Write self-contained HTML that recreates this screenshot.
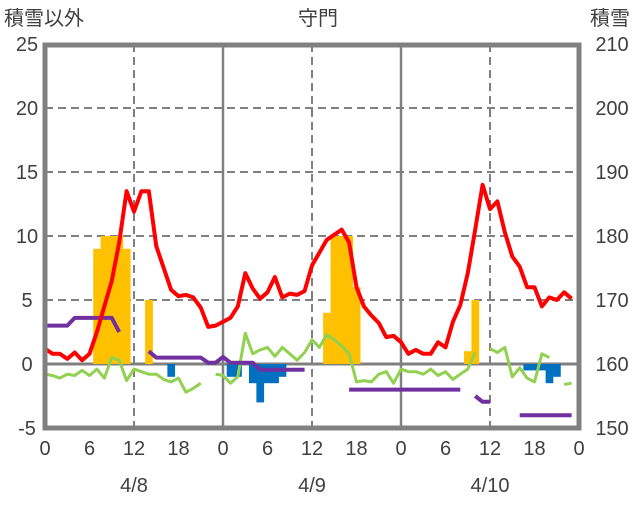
<!DOCTYPE html>
<html><head><meta charset="utf-8"><style>
body{margin:0;background:#fff;}
svg text{font-family:"Liberation Sans","Noto Sans CJK JP",sans-serif;fill:#404040;}
</style></head><body>
<svg id="chart" width="636" height="501" viewBox="0 0 636 501" xmlns="http://www.w3.org/2000/svg">
<g id="grid"></g>
<g id="bars"></g>
<g id="lines"></g>
<g id="frame"></g>
<g id="labels"></g>
</svg>
<script>
const hours = Array.from({length:73},(_,i)=>i);
const xTickLabels = ['0','6','12','18','0','6','12','18','0','6','12','18','0'];
const dateLabels = ['4/8','4/9','4/10'];
const leftTicks = [25,20,15,10,5,0,-5];
const rightTicks = [210,200,190,180,170,160,150];
const temperature = [1.2,0.8,0.8,0.4,0.9,0.3,0.8,2.5,4.5,6.5,9.5,13.5,11.9,13.5,13.5,9.2,7.5,5.8,5.3,5.4,5.2,4.4,2.9,3.0,3.3,3.6,4.5,7.1,5.9,5.1,5.6,6.8,5.2,5.5,5.4,5.7,7.7,8.7,9.7,10.1,10.5,9.5,6.0,4.5,3.8,3.2,2.1,2.2,1.7,0.8,1.1,0.8,0.8,1.7,1.3,3.3,4.6,7.1,10.5,14.0,12.1,12.7,10.3,8.4,7.6,6.0,6.0,4.5,5.2,5.0,5.6,5.1,null];
const greenSeries = [-0.8,-0.9,-1.1,-0.8,-0.9,-0.5,-0.9,-0.4,-1.1,0.5,0.3,-1.3,-0.4,-0.6,-0.8,-0.8,-1.2,-1.4,-1.1,-2.2,-1.9,-1.5,null,-0.8,-0.9,-1.5,-1.0,2.4,0.8,1.1,1.3,0.6,1.3,0.8,0.3,0.9,1.9,1.3,2.3,1.9,1.4,0.8,-1.4,-1.3,-1.4,-0.8,-0.6,-1.5,-0.4,-0.6,-0.6,-0.8,-0.4,-0.9,-0.6,-1.2,-0.8,-0.4,0.9,null,1.2,0.9,1.3,-1.0,-0.3,-1.1,-1.4,0.8,0.5,null,-1.6,-1.5,null];
const snowDepth = [166,166,166,166,167.2,167.2,167.2,167.2,167.2,167.2,165,null,null,null,162,161,161,161,161,161,161,161,160.2,160.2,161.1,160.2,160.2,160.2,160.2,159.1,159.1,159.1,159.1,159.1,159.1,159.1,null,null,null,null,null,156,156,156,156,156,156,156,156,156,156,156,156,156,156,156,156,null,155,154.1,154.1,null,null,null,152,152,152,152,152,152,152,152,null];
const snowfall = [0,0,0,0,0,0,0,9,10,10,10,9,0,0,5,0,0,0,0,0,0,0,0,0,0,0,0,0,0,0,0,0,0,0,0,0,0,0,4,10,10,10,6,0,0,0,0,0,0,0,0,0,0,0,0,0,0,1,5,0,0,0,0,0,0,0,0,0,0,0,0,0,0];
const decrease = [0,0,0,0,0,0,0,0,0,0,0,0,0,0,0,0,0,-1,0,0,0,0,0,0,0,-1,-1,0,-1.5,-3,-1.5,-1.5,-1,0,0,0,0,0,0,0,0,0,0,0,0,0,0,0,0,0,0,0,0,0,0,0,0,0,0,0,0,0,0,0,0,-0.5,-0.5,-0.5,-1.5,-1,0,0,0];

const NS='http://www.w3.org/2000/svg';
const X0=45,X1=579,Y0=44,Y1=428;
const xs=h=>X0+(X1-X0)*h/72;
const yl=v=>Y0+(25-v)*(Y1-Y0)/30;
const yr=v=>Y0+(210-v)*(Y1-Y0)/60;
function mk(tag,attrs,parent){const e=document.createElementNS(NS,tag);for(const k in attrs)e.setAttribute(k,attrs[k]);parent.appendChild(e);return e;}
const grid=document.getElementById('grid'),bars=document.getElementById('bars'),lines=document.getElementById('lines'),frame=document.getElementById('frame'),labels=document.getElementById('labels');

leftTicks.forEach(v=>{
  if(v!==25&&v!==-5&&v!==0){
    const l=mk('line',{x1:X0,x2:X1,y1:yl(v),y2:yl(v),stroke:'#808080','stroke-width':2,'stroke-dasharray':'8,5'},grid);
    
    
  }
  const t=mk('text',{x:27,y:yl(v)+7,'font-size':20,'text-anchor':'middle'},labels);
  t.textContent=v;
  
  
});
rightTicks.forEach(v=>{
  const t=mk('text',{x:612,y:yr(v)+7,'font-size':20,'text-anchor':'middle'},labels);
  t.textContent=v;
  
  
});
[24,48].forEach(h=>{
  const l=mk('line',{x1:xs(h),x2:xs(h),y1:Y0,y2:Y1,stroke:'#808080','stroke-width':2.5},grid);
  
  
});
[12,36,60].forEach(h=>{
  const l=mk('line',{x1:xs(h),x2:xs(h),y1:Y0,y2:Y1,stroke:'#808080','stroke-width':2,'stroke-dasharray':'8,5'},grid);
  
  
});
const bw=(X1-X0)/72;
snowfall.forEach((v,h)=>{ if(v>0){
  const r=mk('rect',{x:xs(h)-bw/2,y:yl(v),width:bw+0.3,height:yl(0)-yl(v),fill:'#FFC000'},bars);
  
  
}});
decrease.forEach((v,h)=>{ if(v<0){
  const r=mk('rect',{x:xs(h)-bw/2,y:yl(0),width:bw+0.3,height:yl(v)-yl(0),fill:'#0070C0'},bars);
  
  
}});
const zl=mk('line',{x1:X0,x2:X1,y1:yl(0),y2:yl(0),stroke:'#808080','stroke-width':3},grid);



function path(arr,yf){let d='',pen=false;arr.forEach((v,h)=>{if(v===null){pen=false;return;}d+=(pen?'L':'M')+xs(h).toFixed(1)+','+yf(v).toFixed(1);pen=true;});return d;}
const g=mk('path',{d:path(greenSeries,yl),fill:'none',stroke:'#92D050','stroke-width':3,'stroke-linejoin':'round'},lines);


const p=mk('path',{d:path(snowDepth,yr),fill:'none',stroke:'#7030A0','stroke-width':4,'stroke-linejoin':'round'},lines);


const r=mk('path',{d:path(temperature,yl),fill:'none',stroke:'#FF0000','stroke-width':4,'stroke-linejoin':'round'},lines);



const fr=mk('rect',{x:X0,y:Y0+1,width:X1-X0,height:Y1-Y0-1,fill:'none',stroke:'#808080','stroke-width':5},frame);



xTickLabels.forEach((s,i)=>{
  const t=mk('text',{x:xs(i*6),y:455,'font-size':20,'text-anchor':'middle'},labels);
  t.textContent=s;
  
  
});
dateLabels.forEach((s,i)=>{
  const t=mk('text',{x:xs(12+i*24),y:492,'font-size':20,'text-anchor':'middle'},labels);
  t.textContent=s;
  
  
});
[['積雪以外',4,'start','left-axis-title'],['守門',318,'middle','chart-title'],['積雪',630,'end','right-axis-title']].forEach(a=>{
  const t=mk('text',{x:a[1],y:25,'font-size':20,'text-anchor':a[2]},labels);
  t.textContent=a[0];
  
  
});
</script>
</body></html>
